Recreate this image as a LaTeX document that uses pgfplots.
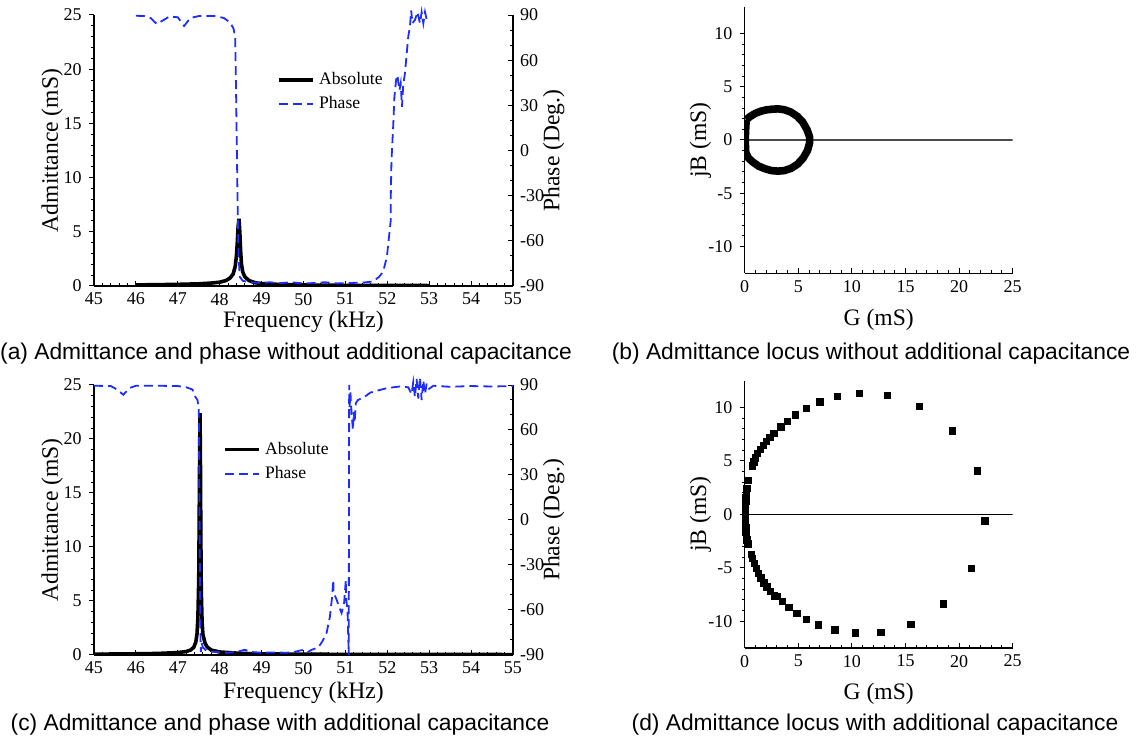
\documentclass[border=0pt]{standalone}
\usepackage{fontspec}
\setmainfont{Liberation Serif}
\newfontfamily\capfont{Liberation Sans}
\usepackage{pgfplots}
\pgfplotsset{compat=1.18}
\definecolor{phaseblue}{RGB}{30,45,255}
\newcommand\labfont{\fontsize{11.8}{13}\selectfont}
\newcommand\tickfont{\fontsize{9}{10}\selectfont}

\pgfplotsset{
  base/.style={
    scale only axis, anchor=south west,
    /pgf/number format/assume math mode=true,
    xticklabel style={font=\tickfont}, yticklabel style={font=\tickfont},
    axis line style={-, line width=0.6pt},
    major tick length=2.6pt, minor tick length=1.6pt,
    every tick/.style={black, line width=0.5pt},
  },
  freqax/.style={base, width=209.5pt, xmin=45, xmax=55,
    xtick={45,...,55}, minor x tick num=4},
  locus/.style={base, width=134pt, xmin=0, xmax=25, ymin=-12.5, ymax=12.5,
    axis x line*=bottom, axis y line*=left,
    xtick={0,5,...,25}, ytick={-10,-5,0,5,10},
    minor x tick num=4, minor y tick num=4,
    xtick align=inside, ytick align=outside,
    xlabel={G (mS)}, ylabel={jB (mS)},
    every axis y label/.style={at={(axis description cs:-0.165,0.5)}, rotate=90, anchor=center, font=\labfont}},
  phaseline/.style={phaseblue, line width=0.9pt, dash pattern=on 4.5pt off 2.5pt},
  absline/.style={black, line width=1.8pt},
  leg/.style={legend style={draw=none, fill=none, anchor=north west,
      font=\fontsize{8.8}{10}\selectfont, inner sep=0pt, row sep=0.5pt,
      cells={anchor=west}},
    legend image code/.code={\draw[##1] (0pt,0pt) -- (17pt,0pt);}},
}

\begin{document}
\begin{tikzpicture}
\path[use as bounding box] (0,0) rectangle (571pt,371.5pt);

% ---------- (a) ----------
\begin{axis}[freqax, at={(47pt,228.5pt)}, height=135.5pt,
  ymin=0, ymax=25, ytick={0,5,...,25}, minor y tick num=4,
  axis x line*=bottom, axis y line*=left,
  xtick align=inside, ytick align=outside,
  xlabel={Frequency (kHz)}, ylabel={Admittance (mS)},
  every axis x label/.style={at={(axis description cs:0.5,-0.133)}, anchor=center, font=\labfont},
  every axis y label/.style={at={(axis description cs:-0.1,0.5)}, rotate=90, anchor=center, font=\labfont}]
\addplot[absline] coordinates {(46.0,0.10) (46.5,0.12) (47.0,0.15) (47.5,0.20) (47.8,0.27) (48.0,0.35) (48.15,0.5) (48.25,0.75) (48.32,1.1) (48.37,1.8) (48.40,2.8) (48.42,4.0) (48.44,5.5) (48.46,6.2) (48.48,5.0) (48.50,3.2) (48.52,2.0) (48.55,1.3) (48.6,0.85) (48.7,0.5) (48.85,0.3) (49.0,0.22) (49.5,0.13) (50.0,0.09) (51.0,0.06) (52.0,0.05) (53.0,0.04)};
\end{axis}
\begin{axis}[freqax, at={(47pt,228.5pt)}, height=135.5pt,
  ymin=-90, ymax=90, ytick={-90,-60,...,90}, minor y tick num=2,
  axis y line*=right, axis x line=none, ytick align=inside, clip=false,
  ylabel={Phase (Deg.)},
  every axis y label/.style={at={(axis description cs:1.097,0.5)}, rotate=90, anchor=center, font=\labfont},
  leg, legend style={at={(axis description cs:0.437,0.805)}}]
\addlegendimage{absline}\addlegendentry{Absolute}
\addplot[phaseline] coordinates {(46.0,89.5) (46.2,89.3) (46.35,88) (46.5,84) (46.65,86.5) (46.8,89) (47.0,88.5) (47.15,82.7) (47.3,88) (47.5,89.3) (47.9,89.3) (48.1,88) (48.25,85) (48.33,81) (48.37,75) (48.39,40) (48.41,0) (48.43,-40) (48.45,-70) (48.48,-84) (48.55,-86.5) (48.7,-87.5) (49.0,-88) (49.2,-87.5) (49.4,-88.2) (49.7,-87.5) (50.0,-88.3) (50.3,-88) (50.5,-87.5) (50.8,-88.3) (51.1,-88) (51.4,-87.8) (51.66,-87) (51.8,-84) (51.9,-80.7) (51.99,-70.7) (52.05,-55) (52.08,-47) (52.085,-27) (52.1,-6.4) (52.14,15.7) (52.17,35.7) (52.21,46.8) (52.24,50) (52.29,40) (52.32,44.6) (52.35,29) (52.38,43.5) (52.42,51.2) (52.46,63.4) (52.5,75.6) (52.54,82.2) (52.57,93) (52.6,84.5) (52.66,86.7) (52.72,92) (52.78,84.5) (52.82,92) (52.86,84.5) (52.9,92) (52.94,87) (53.0,88)};
\addlegendentry{Phase}
\end{axis}

% ---------- (c) ----------
\begin{axis}[freqax, at={(47pt,44pt)}, height=135pt,
  ymin=0, ymax=25, ytick={0,5,...,25}, minor y tick num=4,
  axis x line*=bottom, axis y line*=left,
  xtick align=inside, ytick align=outside,
  xlabel={Frequency (kHz)}, ylabel={Admittance (mS)},
  every axis x label/.style={at={(axis description cs:0.5,-0.141)}, anchor=center, font=\labfont},
  every axis y label/.style={at={(axis description cs:-0.1,0.5)}, rotate=90, anchor=center, font=\labfont}]
\addplot[absline] coordinates {(45.0,0.08) (45.5,0.09) (46.0,0.11) (46.5,0.14) (47.0,0.22) (47.2,0.32) (47.3,0.45) (47.38,0.7) (47.43,1.2) (47.46,2.0) (47.48,3.5) (47.50,7) (47.51,12) (47.52,18) (47.53,22.4) (47.54,18) (47.55,11) (47.56,6) (47.58,3.0) (47.6,1.9) (47.65,1.1) (47.7,0.75) (47.8,0.45) (48.0,0.28) (48.5,0.15) (49,0.1) (50,0.07) (52,0.05) (55,0.04)};
\end{axis}
\begin{axis}[freqax, at={(47pt,44pt)}, height=135pt,
  ymin=-90, ymax=90, ytick={-90,-60,...,90}, minor y tick num=2,
  axis y line*=right, axis x line=none, ytick align=inside, clip=false,
  ylabel={Phase (Deg.)},
  every axis y label/.style={at={(axis description cs:1.097,0.5)}, rotate=90, anchor=center, font=\labfont},
  leg, legend style={at={(axis description cs:0.308,0.805)}}]
\addlegendimage{absline}\addlegendentry{Absolute}
\addplot[phaseline] coordinates {(45.0,89.5) (45.4,89.3) (45.55,87) (45.7,83.5) (45.85,88) (46.0,89.5) (46.5,89.5) (47.0,89.3) (47.2,88.5) (47.35,87) (47.42,82) (47.47,80) (47.5,75) (47.51,40) (47.52,0) (47.53,-40) (47.54,-75) (47.55,-88) (47.57,-82) (47.6,-85) (47.7,-87.5) (47.9,-88) (48.2,-88.5) (48.4,-88) (48.6,-86.5) (48.75,-88) (49.0,-88.5) (49.3,-88.3) (49.6,-88.5) (49.8,-87.8) (50.0,-86.5) (50.1,-88) (50.2,-86.5) (50.35,-85) (50.45,-81) (50.55,-75.4) (50.63,-64.5) (50.68,-52) (50.71,-40) (50.72,-48.9) (50.79,-53) (50.85,-58) (50.91,-62) (50.97,-55) (51.01,-40) (51.02,-53) (51.05,-60) (51.08,-90) (51.09,90) (51.1,75) (51.12,85) (51.15,70) (51.18,60) (51.2,72) (51.22,65) (51.25,78) (51.3,80) (51.45,82) (51.6,85) (51.8,86.5) (52.0,88) (52.3,89) (52.5,88.5) (52.58,84) (52.62,92) (52.66,82) (52.7,94) (52.74,81) (52.78,95) (52.82,80) (52.86,93) (52.9,84) (52.94,91) (53.0,87.5) (53.1,89.5) (53.5,88.8) (54.0,89.3) (54.5,89) (55.0,89.3)};
\addlegendentry{Phase}
\end{axis}

% ---------- (b) ----------
\begin{axis}[locus, at={(372.35pt,234.85pt)}, height=133.3pt,
  every axis x label/.style={at={(axis description cs:0.5,-0.175)}, anchor=center, font=\labfont}]
\addplot[black!70, line width=0.6pt] coordinates {(0,0) (25,0)};
\addplot[black, line width=3.8pt, line join=round] coordinates {(0.15,1.9) (0.5,2.2) (1.0,2.5) (1.5,2.7) (2.0,2.82) (2.5,2.88) (3.1,2.92) (3.7,2.84) (4.3,2.62) (4.9,2.22) (5.4,1.7) (5.8,1.0) (6.05,0.3) (6.05,-0.3) (5.85,-1.0) (5.45,-1.7) (4.95,-2.25) (4.35,-2.65) (3.7,-2.87) (3.1,-2.92) (2.5,-2.87) (1.9,-2.7) (1.3,-2.45) (0.8,-2.1) (0.35,-1.7) (0.1,-1.2) (0.05,0) (0.1,1.2) (0.15,1.9)};
\end{axis}

% ---------- (d) ----------
\begin{axis}[locus, at={(372.35pt,47.5pt)}, height=133.7pt,
  every axis x label/.style={at={(axis description cs:0.5,-0.172)}, anchor=center, font=\labfont}]
\addplot[black, line width=0.6pt] coordinates {(0,0) (25,0)};
\addplot[only marks, mark=square*, mark size=1.6pt, black] coordinates {
(21.7,4.06) (22.4,-0.62) (19.36,7.8) (16.3,10.08) (13.3,11.1) (10.7,11.3) (8.66,11.0) (7.0,10.5) (5.74,9.92) (4.73,9.3) (3.96,8.7) (3.36,8.17) (2.72,7.58) (2.35,7.18) (2.0,6.8) (1.75,6.46) (1.48,6.08) (1.2,5.68) (1.0,5.27) (0.84,4.9) (0.74,4.52)
(0.37,3.18) (0.2,2.4) (0.15,2.0) (0.12,1.6) (0.1,1.2) (0.08,0.8) (0.07,0.4) (0.07,0.0) (0.07,-0.4) (0.08,-0.8) (0.1,-1.2) (0.12,-1.6) (0.15,-2.0) (0.2,-2.4) (0.34,-2.78)
(0.6,-3.74) (0.74,-4.12) (0.9,-4.6) (1.07,-5.05) (1.28,-5.52) (1.5,-5.96) (1.78,-6.4) (2.08,-6.8) (2.42,-7.2) (2.79,-7.64) (3.05,-7.7) (3.52,-8.17) (4.13,-8.7) (4.87,-9.27) (5.74,-9.8) (6.9,-10.33) (8.42,-10.8) (10.3,-11.1) (12.7,-11.05) (15.5,-10.27) (18.55,-8.39) (21.14,-5.05)};
\end{axis}

% ---------- captions ----------
\begin{scope}[every node/.style={font=\capfont\fontsize{11.4}{13}\selectfont, inner sep=0pt}]
\node at (143pt,194.5pt) {(a) Admittance and phase without additional capacitance};
\node at (435.5pt,194.5pt) {(b) Admittance locus without additional capacitance};
\node at (140pt,9pt) {(c) Admittance and phase with additional capacitance};
\node at (437.5pt,9pt) {(d) Admittance locus with additional capacitance};
\end{scope}
\end{tikzpicture}
\end{document}
